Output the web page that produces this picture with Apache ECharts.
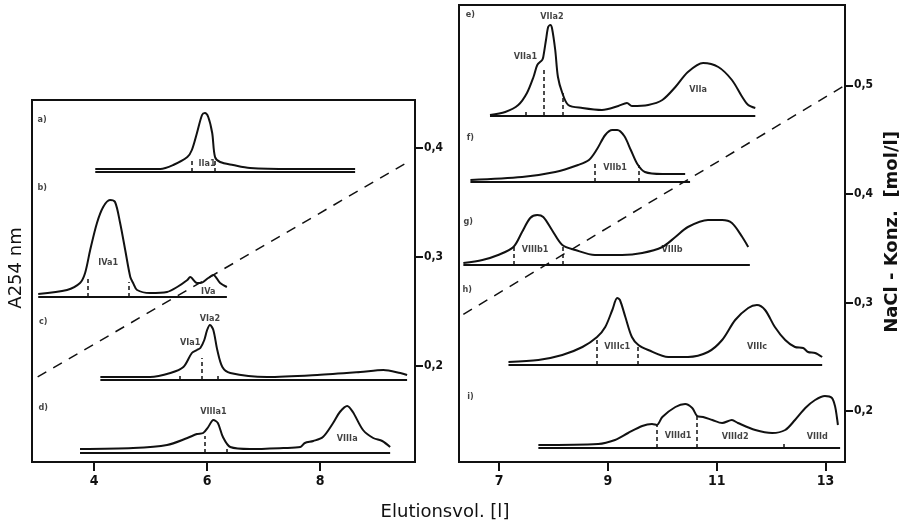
<!DOCTYPE html>
<html>
<head>
<meta charset="utf-8">
<title>Elutionsprofile</title>
<script src="https://cdn.jsdelivr.net/npm/echarts@6/dist/echarts.min.js"></script>
<style>
  html, body { margin: 0; background: #fff; }
  #chart { width: 903px; height: 529px; }
</style>
</head>
<body>
<div id="chart"></div>
<script>
// tick labels
var leftVolTicks = [4, 6, 8];
var rightVolTicks = [7, 9, 11, 13];
var leftNaclTicks = [0.2, 0.3, 0.4];
var rightNaclTicks = [0.2, 0.3, 0.4, 0.5];

// NaCl gradient, [elution volume (l), NaCl (mol/l)]
var gradientLeft = [[3.0, 0.19], [9.55, 0.387]];
var gradientRight = [[6.34, 0.289], [13.36, 0.5]];

// A254 traces, [elution volume (l), absorbance above own baseline (rel. units)]
var traceA = [[4.02,3],[5.17,3],[5.40,7],[5.65,15],[5.73,22],[5.82,39],[5.91,57],[5.96,59],[6.02,55],[6.09,39],[6.14,15],[6.23,10],[6.46,7],[6.76,4],[7.5,3],[8.62,3]];
var traceB = [[3.01,3],[3.52,7],[3.75,14],[3.84,24],[3.93,47],[4.05,74],[4.16,90],[4.28,97],[4.37,95],[4.46,74],[4.55,47],[4.64,20],[4.69,14],[4.76,7],[4.99,4],[5.29,5],[5.47,10],[5.65,17],[5.70,20],[5.82,14],[5.88,14],[6.02,19],[6.11,22],[6.23,14],[6.35,10]];
var traceC = [[4.11,3],[4.99,3],[5.35,7],[5.58,13],[5.73,27],[5.82,30],[5.88,32],[5.95,40],[6.00,50],[6.05,55],[6.11,50],[6.18,30],[6.27,13],[6.41,7],[7.06,3],[7.95,5],[8.71,8],[9.12,10],[9.42,7],[9.54,5]];
var traceD = [[3.75,4],[4.69,5],[5.29,8],[5.65,15],[5.82,19],[5.93,20],[6.02,26],[6.11,33],[6.19,30],[6.28,16],[6.41,6],[6.76,4],[7.35,5],[7.65,6],[7.73,10],[7.88,12],[8.05,16],[8.23,30],[8.35,41],[8.48,47],[8.58,41],[8.76,23],[8.94,15],[9.10,12],[9.24,6]];
var traceE = [[6.83,1],[7.11,4],[7.35,11],[7.51,23],[7.63,39],[7.70,51],[7.79,56],[7.81,59],[7.86,76],[7.90,89],[7.94,91],[7.97,88],[8.03,66],[8.08,39],[8.16,23],[8.27,11],[8.53,8],[8.89,6],[9.19,10],[9.35,13],[9.44,10],[9.74,11],[10.00,16],[10.24,29],[10.47,44],[10.75,53],[11.03,49],[11.28,36],[11.47,19],[11.58,11],[11.71,8]];
var traceF = [[6.47,2],[7.42,5],[8.03,10],[8.45,17],[8.65,22],[8.80,33],[8.95,47],[9.08,52],[9.17,52],[9.30,46],[9.42,32],[9.54,18],[9.68,10],[10.00,8],[10.42,8]];
var traceG = [[6.34,2],[6.69,5],[6.98,10],[7.26,18],[7.42,33],[7.57,47],[7.70,50],[7.81,48],[7.97,35],[8.16,20],[8.40,15],[8.76,10],[9.26,10],[9.63,12],[10.00,18],[10.24,28],[10.47,38],[10.84,45],[11.10,45],[11.28,42],[11.47,28],[11.58,18]];
var traceH = [[7.17,3],[7.72,5],[8.16,10],[8.53,18],[8.80,28],[8.95,38],[9.08,55],[9.17,67],[9.22,65],[9.32,48],[9.44,28],[9.56,20],[9.74,15],[10.11,8],[10.47,8],[10.84,13],[11.10,25],[11.34,45],[11.58,57],[11.74,60],[11.89,55],[12.07,38],[12.26,25],[12.44,18],[12.59,17],[12.68,13],[12.81,12],[12.94,8]];
var traceI = [[7.72,3],[8.82,4],[9.13,8],[9.37,15],[9.63,22],[9.81,24],[9.90,23],[10.00,31],[10.24,41],[10.42,44],[10.55,40],[10.64,32],[10.75,31],[10.92,28],[11.10,25],[11.28,28],[11.39,25],[11.71,18],[12.02,15],[12.26,18],[12.44,28],[12.63,40],[12.81,48],[12.99,52],[13.12,50],[13.18,41],[13.21,31],[13.23,23]];

// baseline extent of each run (l)
var spanA = [4.02, 8.62], spanB = [3.01, 6.35], spanC = [4.11, 9.54], spanD = [3.75, 9.24];
var spanE = [6.83, 11.71], spanF = [6.47, 10.51], spanG = [6.34, 11.61], spanH = [7.17, 12.94], spanI = [7.72, 13.27];

// fraction cuts, [volume, height of dashed mark]
var cutsA = [[5.73,14],[6.14,14]];
var cutsB = [[3.88,18],[4.62,15]];
var cutsC = [[5.52,4],[5.91,22],[6.19,6]];
var cutsD = [[5.95,17],[6.34,4]];
var cutsE = [[7.48,5],[7.81,49],[8.16,23]];
var cutsF = [[8.76,19],[9.56,17]];
var cutsG = [[7.26,18],[8.16,18]];
var cutsH = [[8.80,28],[9.54,20]];
var cutsI = [[9.90,23],[10.64,32],[12.24,6]];

// fraction names
var tagsA = [[3.08,52,'a)'],[6.00,8,'IIa1']];
var tagsB = [[3.08,109,'b)'],[4.25,34,'IVa1'],[6.02,5,'IVa']];
var tagsC = [[3.10,58,'c)'],[5.70,37,'VIa1'],[6.05,61,'VIa2']];
var tagsD = [[3.10,45,'d)'],[6.11,41,'VIIIa1'],[8.48,14,'VIIIa']];
var tagsE = [[6.47,101,'e)'],[7.48,59,'VIIa1'],[7.97,99,'VIIa2'],[10.66,26,'VIIa']];
var tagsF = [[6.47,44,'f)'],[9.13,14,'VIIb1']];
var tagsG = [[6.43,43,'g)'],[7.66,15,'VIIIb1'],[10.18,15,'VIIIb']];
var tagsH = [[6.41,75,'h)'],[9.17,18,'VIIIc1'],[11.74,18,'VIIIc']];
var tagsI = [[6.47,51,'i)'],[10.29,12,'VIIId1'],[11.34,11,'VIIId2'],[12.85,11,'VIIId']];

// layout: panel and vertical offset of every run
var runs = [
    { panel: 0, lift: 290, trace: traceA, span: spanA, cuts: cutsA, tags: tagsA },
    { panel: 0, lift: 165, trace: traceB, span: spanB, cuts: cutsB, tags: tagsB },
    { panel: 0, lift: 82,  trace: traceC, span: spanC, cuts: cutsC, tags: tagsC },
    { panel: 0, lift: 9,   trace: traceD, span: spanD, cuts: cutsD, tags: tagsD },
    { panel: 1, lift: 346, trace: traceE, span: spanE, cuts: cutsE, tags: tagsE },
    { panel: 1, lift: 280, trace: traceF, span: spanF, cuts: cutsF, tags: tagsF },
    { panel: 1, lift: 197, trace: traceG, span: spanG, cuts: cutsG, tags: tagsG },
    { panel: 1, lift: 97,  trace: traceH, span: spanH, cuts: cutsH, tags: tagsH },
    { panel: 1, lift: 14,  trace: traceI, span: spanI, cuts: cutsI, tags: tagsI }
];

var ink = '#111';
var tickFont = { color: ink, fontSize: 14, fontWeight: 'bold', fontFamily: 'DejaVu Sans Condensed' };

function naclLabel(v) { return v.toFixed(1).replace('.', ','); }

var chart = echarts.init(document.getElementById('chart'));

var series = [];
runs.forEach(function (r) {
    var xi = r.panel, yi = r.panel * 2;
    series.push({
        type: 'line', xAxisIndex: xi, yAxisIndex: yi, z: 3,
        showSymbol: false, smooth: 0.3, silent: true,
        lineStyle: { color: ink, width: 2 },
        data: r.trace.map(function (p) { return [p[0], p[1] + r.lift]; })
    });
    series.push({
        type: 'line', xAxisIndex: xi, yAxisIndex: yi, z: 3,
        showSymbol: false, silent: true,
        lineStyle: { color: ink, width: 2 },
        data: [[r.span[0], r.lift], [r.span[1], r.lift]]
    });
    series.push({
        type: 'lines', coordinateSystem: 'cartesian2d', xAxisIndex: xi, yAxisIndex: yi, z: 3,
        silent: true,
        lineStyle: { color: ink, width: 1.5, type: [4, 3], opacity: 1 },
        data: r.cuts.map(function (c) { return { coords: [[c[0], r.lift], [c[0], r.lift + c[1]]] }; })
    });
    series.push({
        type: 'scatter', xAxisIndex: xi, yAxisIndex: yi, z: 4,
        symbolSize: 0, silent: true,
        label: {
            show: true, position: 'inside', color: ink, fontSize: 9, fontWeight: 'bold',
            fontFamily: 'DejaVu Sans Condensed',
            formatter: function (p) { return p.data[2]; }
        },
        data: r.tags.map(function (t) { return [t[0], t[1] + r.lift, t[2]]; })
    });
});

series.push({
    type: 'line', xAxisIndex: 0, yAxisIndex: 1, z: 2, showSymbol: false, silent: true,
    lineStyle: { color: ink, width: 1.5, type: [10, 8] },
    data: gradientLeft
});
series.push({
    type: 'line', xAxisIndex: 1, yAxisIndex: 3, z: 2, showSymbol: false, silent: true,
    lineStyle: { color: ink, width: 1.5, type: [10, 8] },
    data: gradientRight
});

function volAxis(grid, min, max, ticks) {
    return {
        type: 'value', gridIndex: grid, min: min, max: max,
        axisLine: { show: false },
        splitLine: { show: false },
        axisTick: { show: true, customValues: ticks, length: 9, lineStyle: { color: ink, width: 2 } },
        axisLabel: { customValues: ticks, margin: 12, ...tickFont }
    };
}
function naclAxis(grid, min, max, ticks) {
    return {
        type: 'value', gridIndex: grid, position: 'right', min: min, max: max,
        axisLine: { show: false },
        splitLine: { show: false },
        axisTick: { show: true, customValues: ticks, length: 8, lineStyle: { color: ink, width: 2 } },
        axisLabel: { customValues: ticks, margin: 9, formatter: naclLabel, ...tickFont, fontSize: 12 }
    };
}
function hiddenAxis(grid, max) {
    return { type: 'value', gridIndex: grid, min: 0, max: max, show: false };
}

var option = {
    animation: false,
    backgroundColor: '#fff',
    grid: [
        { left: 32, top: 100, width: 383, height: 362, show: true, borderColor: ink, borderWidth: 2 },
        { left: 459, top: 5, width: 386, height: 457, show: true, borderColor: ink, borderWidth: 2 }
    ],
    xAxis: [
        volAxis(0, 2.9, 9.68, leftVolTicks),
        volAxis(1, 6.26, 13.36, rightVolTicks)
    ],
    yAxis: [
        hiddenAxis(0, 362),
        naclAxis(0, 0.112, 0.444, leftNaclTicks),
        hiddenAxis(1, 457),
        naclAxis(1, 0.153, 0.574, rightNaclTicks)
    ],
    graphic: [
        {
            type: 'text', x: 16, y: 268, rotation: Math.PI / 2,
            style: {
                text: 'A254 nm', fill: ink, font: '18px "DejaVu Sans"',
                align: 'center', verticalAlign: 'middle'
            }
        },
        {
            type: 'text', x: 892, y: 232, rotation: Math.PI / 2,
            style: {
                text: 'NaCl - Konz.  [mol/l]', fill: ink, font: 'bold 18px "DejaVu Sans"',
                align: 'center', verticalAlign: 'middle'
            }
        },
        {
            type: 'text', x: 445, y: 512,
            style: {
                text: 'Elutionsvol. [l]', fill: ink, font: '18px "DejaVu Sans"',
                align: 'center', verticalAlign: 'middle'
            }
        }
    ],
    series: series
};

chart.setOption(option);
</script>
</body>
</html>
